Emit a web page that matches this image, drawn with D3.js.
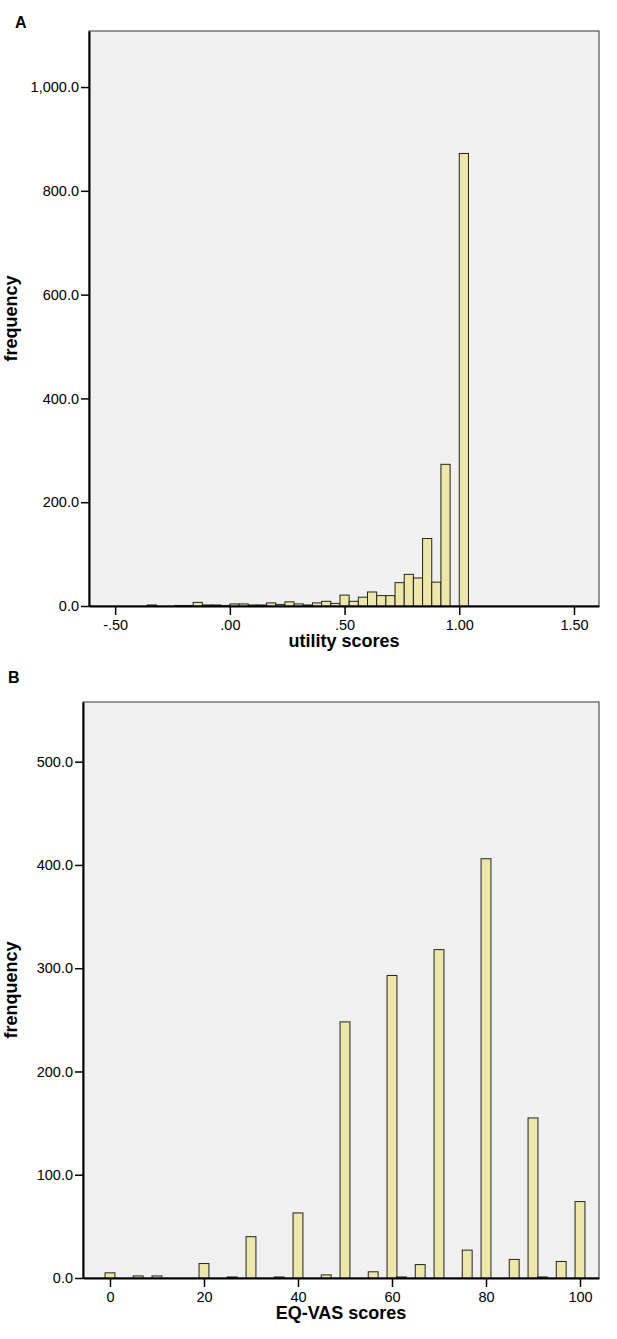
<!DOCTYPE html>
<html>
<head>
<meta charset="utf-8">
<script src="https://cdn.jsdelivr.net/npm/d3@7"></script>
<style>
  body { margin: 0; background: #fff; }
  svg { display: block; font-family: "Liberation Sans", Arial, sans-serif; }
</style>
</head>
<body>
<div id="chart"></div>
<script>
// Panel A: utility scores, bin centres (width .04) and counts
let utilityBins = [-0.34, -0.22, -0.18, -0.14, -0.10, -0.06, -0.02, 0.02, 0.06, 0.10,
    0.14, 0.18, 0.22, 0.26, 0.30, 0.34, 0.38, 0.42, 0.46, 0.50,
    0.54, 0.58, 0.62, 0.66, 0.70, 0.74, 0.78, 0.82, 0.86, 0.90,
    0.94, 1.02];
let utilityCounts = [2, 1, 1, 7, 2, 2, 1, 4, 4, 2,
    2, 6, 3, 8, 4, 2, 6, 9, 5, 21,
    9, 17, 27, 20, 20, 45, 61, 54, 130, 46,
    273, 872];
let utilityTicks = [-0.5, 0, 0.5, 1, 1.5];
let utilityTickLabels = ["-.50", ".00", ".50", "1.00", "1.50"];
let utilityYTicks = [0, 200, 400, 600, 800, 1000];
let utilityYLabels = ["0.0", "200.0", "400.0", "600.0", "800.0", "1,000.0"];

// Panel B: EQ-VAS scores
let vasBins = [0, 6, 10, 20, 26, 30, 36, 40, 46, 50, 56, 60, 62, 66, 70, 76, 80, 86, 90, 92, 96, 100];
let vasCounts = [5, 2, 2, 14, 1, 40, 1, 63, 3, 248, 6, 293, 1, 13, 318, 27, 406, 18, 155, 1, 16, 74];
let vasTicks = [0, 20, 40, 60, 80, 100];
let vasTickLabels = ["0", "20", "40", "60", "80", "100"];
let vasYTicks = [0, 100, 200, 300, 400, 500];
let vasYLabels = ["0.0", "100.0", "200.0", "300.0", "400.0", "500.0"];

let svg = d3.select("#chart")
    .append("svg")
    .attr("width", 617)
    .attr("height", 1339);

function drawHistogram(p) {
    let xScale = d3.scaleLinear().domain(p.xDomain).range([p.left, p.right]);
    let yScale = d3.scaleLinear().domain(p.yDomain).range([p.bottom, p.top]);

    // plot background + frame
    svg.append("rect")
        .attr("x", p.left)
        .attr("y", p.top)
        .attr("width", p.right - p.left)
        .attr("height", p.bottom - p.top)
        .attr("fill", "#f0f0f0")
        .attr("stroke", "#333")
        .attr("stroke-width", 1);

    // bars
    let bars = p.bins.map((b, i) => ({ c: b, n: p.counts[i] }));
    svg.append("g").selectAll("rect")
        .data(bars)
        .enter()
        .append("rect")
        .attr("x", d => xScale(d.c - p.binWidth / 2))
        .attr("width", d => xScale(d.c + p.binWidth / 2) - xScale(d.c - p.binWidth / 2))
        .attr("y", d => yScale(d.n))
        .attr("height", d => p.bottom - yScale(d.n))
        .attr("fill", "#ede7a8")
        .attr("stroke", "#222")
        .attr("stroke-width", 1);

    let xAxis = d3.axisBottom(xScale)
        .tickValues(p.xTicks)
        .tickFormat((d, i) => p.xLabels[i])
        .tickSizeInner(9)
        .tickSizeOuter(0)
        .tickPadding(5);
    let yAxis = d3.axisLeft(yScale)
        .tickValues(p.yTicks)
        .tickFormat((d, i) => p.yLabels[i])
        .tickSizeInner(8)
        .tickSizeOuter(0)
        .tickPadding(2);

    let gx = svg.append("g")
        .attr("transform", `translate(0, ${p.bottom})`)
        .call(xAxis);
    let gy = svg.append("g")
        .attr("transform", `translate(${p.left}, 0)`)
        .call(yAxis);

    [gx, gy].forEach(g => {
        g.select(".domain").attr("stroke", "#000").attr("stroke-width", 2);
        g.selectAll(".tick line").attr("stroke", "#000").attr("stroke-width", 1.5);
        g.selectAll(".tick text")
            .attr("fill", "#000")
            .attr("font-size", "14.5px")
            .attr("font-family", "'Liberation Sans', Arial, sans-serif");
    });

    svg.append("text")
        .attr("x", p.letterX)
        .attr("y", p.letterY)
        .attr("font-size", "16px")
        .attr("font-weight", "bold")
        .text(p.letter);

    svg.append("text")
        .attr("x", (p.left + p.right) / 2)
        .attr("y", p.bottom + 41)
        .attr("text-anchor", "middle")
        .attr("font-size", "18px")
        .attr("font-weight", "bold")
        .text(p.xTitle);

    svg.append("text")
        .attr("transform", `translate(17, ${(p.top + p.bottom) / 2}) rotate(-90)`)
        .attr("text-anchor", "middle")
        .attr("font-size", "18px")
        .attr("font-weight", "bold")
        .text(p.yTitle);
}

drawHistogram({
    left: 89, right: 599, top: 31, bottom: 606,
    xDomain: [-0.614, 1.609], yDomain: [0, 1108],
    bins: utilityBins, counts: utilityCounts, binWidth: 0.04,
    xTicks: utilityTicks, xLabels: utilityTickLabels,
    yTicks: utilityYTicks, yLabels: utilityYLabels,
    letter: "A", letterX: 15, letterY: 28,
    xTitle: "utility scores", yTitle: "frequency"
});

drawHistogram({
    left: 83, right: 599, top: 702, bottom: 1278,
    xDomain: [-5.74, 104.04], yDomain: [0, 557.8],
    bins: vasBins, counts: vasCounts, binWidth: 2.1,
    xTicks: vasTicks, xLabels: vasTickLabels,
    yTicks: vasYTicks, yLabels: vasYLabels,
    letter: "B", letterX: 8, letterY: 683,
    xTitle: "EQ-VAS scores", yTitle: "frenquency"
});
</script>
</body>
</html>
